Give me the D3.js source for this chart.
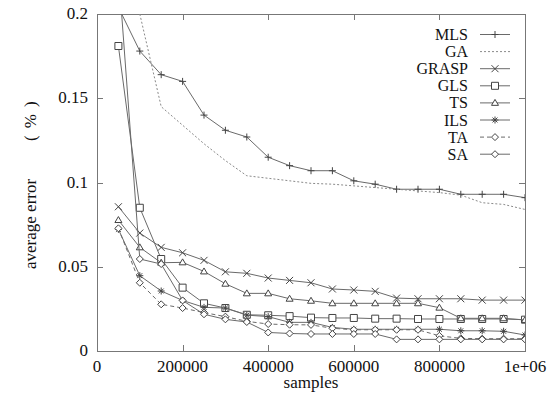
<!DOCTYPE html>
<html>
<head>
<meta charset="utf-8">
<script src="https://cdn.jsdelivr.net/npm/d3@7"></script>
<style>
  body { margin: 0; background: #fff; }
  text { font-family: 'Liberation Serif', 'Times New Roman', serif; fill: #111; }
</style>
</head>
<body>
<div id="chart"></div>
<script>
const samples = [50000, 100000, 150000, 200000, 250000, 300000, 350000, 400000, 450000, 500000,
  550000, 600000, 650000, 700000, 750000, 800000, 850000, 900000, 950000, 1000000];

const MLS = [0.204, 0.178, 0.164, 0.160, 0.140, 0.131, 0.127, 0.115, 0.110, 0.107,
  0.107, 0.101, 0.099, 0.096, 0.096, 0.096, 0.093, 0.093, 0.093, 0.091];
const GA = [null, 0.200, 0.145, 0.134, 0.123, 0.113, 0.104, 0.1025, 0.101, 0.0995,
  0.099, 0.098, 0.097, 0.096, 0.095, 0.094, 0.0925, 0.088, 0.087, 0.084];
const GRASP = [0.0856, 0.070, 0.0615, 0.0583, 0.0538, 0.047, 0.0461, 0.0433, 0.0419, 0.0405,
  0.0368, 0.0362, 0.0354, 0.0314, 0.031, 0.031, 0.031, 0.0302, 0.0302, 0.0302];
const GLS = [0.181, 0.085, 0.0546, 0.0376, 0.0283, 0.0255, 0.0215, 0.0212, 0.0207, 0.0198,
  0.0196, 0.0196, 0.0192, 0.0192, 0.019, 0.019, 0.019, 0.019, 0.019, 0.0186];
const TS = [0.0777, 0.0615, 0.0524, 0.0526, 0.0472, 0.0399, 0.0342, 0.0342, 0.031, 0.0298,
  0.0283, 0.0283, 0.0283, 0.0283, 0.0283, 0.0257, 0.0194, 0.0194, 0.0194, 0.0184];
const ILS = [0.0722, 0.0447, 0.0356, 0.030, 0.0259, 0.0255, 0.0213, 0.0204, 0.017, 0.017,
  0.014, 0.0129, 0.0129, 0.0129, 0.0129, 0.0129, 0.012, 0.012, 0.0117, 0.0095];
const TA = [0.0728, 0.0405, 0.0277, 0.0255, 0.0228, 0.0204, 0.0176, 0.016, 0.0156, 0.0155,
  0.0135, 0.0126, 0.0126, 0.0126, 0.0126, 0.009, 0.0075, 0.0073, 0.0073, 0.0073];
const SA = [0.226, 0.0546, 0.0516, 0.030, 0.0218, 0.0188, 0.0172, 0.011, 0.0104, 0.0101,
  0.0101, 0.0101, 0.0101, 0.0069, 0.0069, 0.0069, 0.0069, 0.0069, 0.0069, 0.0069];

const xTicks = [0, 200000, 400000, 600000, 800000, 1000000];
const xTickLabels = ['0', '200000', '400000', '600000', '800000', '1e+06'];
const yTicks = [0, 0.05, 0.1, 0.15, 0.2];
const yTickLabels = ['0', '0.05', '0.1', '0.15', '0.2'];

const series = [
  { name: 'MLS', values: MLS, marker: 'plus', dash: null },
  { name: 'GA', values: GA, marker: null, dash: '2,2' },
  { name: 'GRASP', values: GRASP, marker: 'cross', dash: null },
  { name: 'GLS', values: GLS, marker: 'square', dash: null },
  { name: 'TS', values: TS, marker: 'triangle', dash: null },
  { name: 'ILS', values: ILS, marker: 'star', dash: null },
  { name: 'TA', values: TA, marker: 'diamond', dash: '4,3' },
  { name: 'SA', values: SA, marker: 'diamond', dash: null }
];

const width = 550;
const height = 393;
const margin = { left: 97, right: 25, top: 14, bottom: 42 };
const lineColor = '#6a6a6a';

const svg = d3
  .select('#chart')
  .append('svg')
  .attr('width', width)
  .attr('height', height);

const xScale = d3.scaleLinear().domain([0, 1000000]).range([margin.left, width - margin.right]);
const yScale = d3.scaleLinear().domain([0, 0.2]).range([height - margin.bottom, margin.top]);

svg.append('clipPath')
  .attr('id', 'plot-clip')
  .append('rect')
  .attr('x', margin.left)
  .attr('y', margin.top)
  .attr('width', width - margin.left - margin.right)
  .attr('height', height - margin.top - margin.bottom);

// frame with inward ticks on all four sides, like gnuplot
const tickLen = 6;
const frame = svg.append('g').attr('stroke', '#777').attr('stroke-width', 1).attr('fill', 'none');

xTicks.forEach(function (t) {
  const x = Math.round(xScale(t)) + 0.5;
  frame.append('line').attr('x1', x).attr('x2', x)
    .attr('y1', yScale(0)).attr('y2', yScale(0) - tickLen);
  frame.append('line').attr('x1', x).attr('x2', x)
    .attr('y1', yScale(0.2)).attr('y2', yScale(0.2) + tickLen);
});
yTicks.forEach(function (t) {
  const y = Math.round(yScale(t)) + 0.5;
  frame.append('line').attr('y1', y).attr('y2', y)
    .attr('x1', xScale(0)).attr('x2', xScale(0) + tickLen);
  frame.append('line').attr('y1', y).attr('y2', y)
    .attr('x1', xScale(1000000)).attr('x2', xScale(1000000) - tickLen);
});

frame.append('rect')
  .attr('x', Math.round(xScale(0)) + 0.5)
  .attr('y', Math.round(yScale(0.2)) + 0.5)
  .attr('width', Math.round(xScale(1000000) - xScale(0)))
  .attr('height', Math.round(yScale(0) - yScale(0.2)));

// tick labels
svg.append('g')
  .selectAll('text')
  .data(xTicks)
  .enter()
  .append('text')
  .attr('x', (d) => xScale(d))
  .attr('y', yScale(0) + 21)
  .attr('text-anchor', 'middle')
  .attr('font-size', 17)
  .text((d, i) => xTickLabels[i]);

svg.append('g')
  .selectAll('text')
  .data(yTicks)
  .enter()
  .append('text')
  .attr('x', xScale(0) - 9)
  .attr('y', (d) => yScale(d) + 5)
  .attr('text-anchor', 'end')
  .attr('font-size', 17)
  .text((d, i) => yTickLabels[i]);

svg.append('text')
  .attr('x', (xScale(0) + xScale(1000000)) / 2)
  .attr('y', 388)
  .attr('text-anchor', 'middle')
  .attr('font-size', 17)
  .text('samples');

// y label: the (%) sits apart from the words, as in the picture
const yLabel = svg.append('text')
  .attr('transform', 'translate(36, 269) rotate(-90)')
  .attr('text-anchor', 'start')
  .attr('font-size', 17);
yLabel.append('tspan').text('average error');
yLabel.append('tspan').attr('dx', 38).attr('letter-spacing', 7).text('(%)');

function markerPath(type, s) {
  const h = s / 2;
  if (type === 'plus') return `M${-h},0H${h}M0,${-h}V${h}`;
  if (type === 'cross') return `M${-h},${-h}L${h},${h}M${-h},${h}L${h},${-h}`;
  if (type === 'square') return `M${-h},${-h}H${h}V${h}H${-h}Z`;
  if (type === 'triangle') return `M0,${-h}L${h},${h * 0.7}L${-h},${h * 0.7}Z`;
  if (type === 'star')
    return `M${-h},0H${h}M0,${-h}V${h}M${-h * 0.7},${-h * 0.7}L${h * 0.7},${h * 0.7}M${-h * 0.7},${h * 0.7}L${h * 0.7},${-h * 0.7}`;
  if (type === 'diamond') return `M0,${-h}L${h},0L0,${h}L${-h},0Z`;
  return '';
}

const line = d3
  .line()
  .defined((d) => d != null)
  .x((d, i) => xScale(samples[i]))
  .y((d) => yScale(d));

const plot = svg.append('g').attr('clip-path', 'url(#plot-clip)');

series.forEach(function (s) {
  plot.append('path')
    .datum(s.values)
    .attr('d', line)
    .attr('fill', 'none')
    .attr('stroke', s.dash === '2,2' ? '#8a8a8a' : lineColor)
    .attr('stroke-width', 1)
    .attr('stroke-dasharray', s.dash);

  if (s.marker) {
    plot.append('g')
      .selectAll('path')
      .data(s.values.map((v, i) => ({ x: samples[i], y: v })).filter((d) => d.y != null))
      .enter()
      .append('path')
      .attr('transform', (d) => `translate(${xScale(d.x)},${yScale(d.y)})`)
      .attr('d', markerPath(s.marker, 7))
      .attr('fill', s.marker === 'plus' || s.marker === 'cross' || s.marker === 'star' ? 'none' : '#fff')
      .attr('stroke', '#444')
      .attr('stroke-width', 1);
  }
});

// legend
const legend = svg.append('g');
series.forEach(function (s, i) {
  const y = 34.5 + i * 17.1;
  legend.append('text')
    .attr('x', 468)
    .attr('y', y + 5.5)
    .attr('text-anchor', 'end')
    .attr('font-size', 16)
    .text(s.name);
  legend.append('line')
    .attr('x1', 480).attr('x2', 510)
    .attr('y1', y).attr('y2', y)
    .attr('stroke', s.dash === '2,2' ? '#8a8a8a' : lineColor)
    .attr('stroke-dasharray', s.dash);
  if (s.marker) {
    legend.append('path')
      .attr('transform', `translate(495,${y})`)
      .attr('d', markerPath(s.marker, 7))
      .attr('fill', s.marker === 'plus' || s.marker === 'cross' || s.marker === 'star' ? 'none' : '#fff')
      .attr('stroke', '#444');
  }
});
</script>
</body>
</html>
